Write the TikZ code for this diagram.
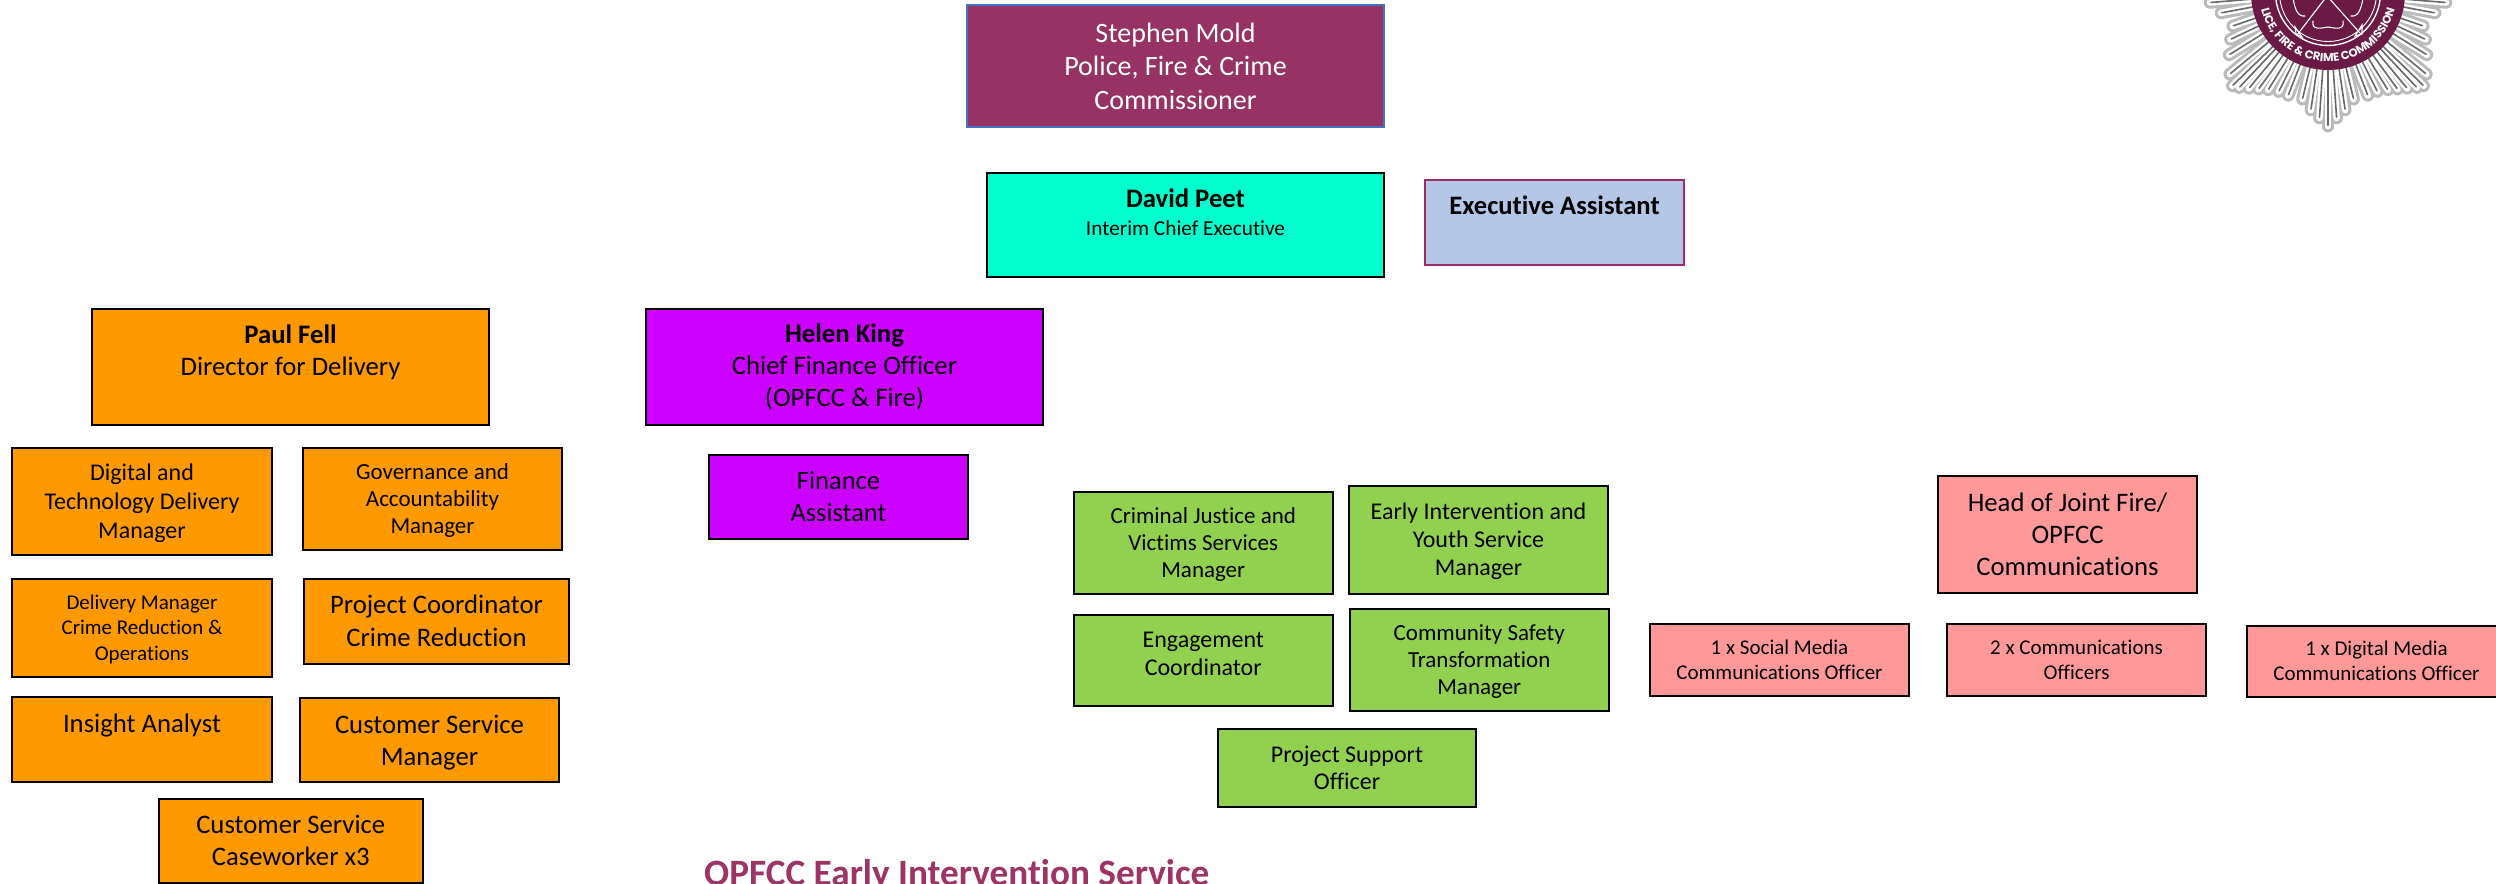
\documentclass[tikz,border=0pt]{standalone}
\usepackage{fontspec}
\setmainfont[Ligatures=NoCommon]{Carlito}
\newfontfamily\badgefont{Poppins}
\usetikzlibrary{decorations.text,calc}
\definecolor{cPFCC}{HTML}{963264}
\definecolor{cBlueEdge}{HTML}{4472C4}
\definecolor{cTeal}{HTML}{00FFCC}
\definecolor{cExec}{HTML}{B4C7E7}
\definecolor{cExecEdge}{HTML}{A02B68}
\definecolor{cOrange}{HTML}{FF9900}
\definecolor{cPurple}{HTML}{CC00FF}
\definecolor{cGreen}{HTML}{92D050}
\definecolor{cPink}{HTML}{FF9999}
\definecolor{cTitle}{HTML}{9E3366}
\definecolor{cMaroon}{HTML}{6B1A45}
\definecolor{cSilver}{HTML}{B8BABC}
\definecolor{cRay}{HTML}{66686A}
\tikzset{
  x=1pt,y=-1pt,
  orgbox/.style={draw=black,line width=2pt,inner sep=0pt,outer sep=0pt,rectangle},
  commbox/.style={orgbox,draw=cBlueEdge,fill=cPFCC,text=white},
  tealbox/.style={orgbox,fill=cTeal},
  execbox/.style={orgbox,draw=cExecEdge,fill=cExec},
  orangebox/.style={orgbox,fill=cOrange},
  purplebox/.style={orgbox,fill=cPurple},
  greenbox/.style={orgbox,fill=cGreen},
  pinkbox/.style={orgbox,fill=cPink},
  sectitle/.style={inner sep=0pt,anchor=base west,text=cTitle,font=\fontsize{37.2}{44}\selectfont\bfseries},
  emblem/.style={white,line width=1.1pt,line cap=round},
}
% name x1 y1 x2 y2 style size lead text
\newcommand{\orgnode}[9]{%
  \def\nodetxt{#9}%
  \pgfmathsetlengthmacro{\bw}{#4-#2}\pgfmathsetlengthmacro{\bh}{#5-#3}%
  \pgfmathsetmacro{\cxx}{(#2+#4)/2}\pgfmathsetmacro{\cyy}{(#3+#5)/2}%
  \orgnodeb{#1}{#6}{#7}{#8}%
}
\newcommand{\orgnodeb}[4]{%
  \node[#2] (#1) at (\cxx,\cyy) {\parbox[c][\bh][t]{\bw}{\centering\fontsize{#3}{#4}\selectfont\nodetxt\par}};%
}
\newcommand{\bsl}[1]{\rule{0pt}{#1pt}}
\begin{document}
\begin{tikzpicture}
\useasboundingbox (0,0) rectangle (2496,883);
\fill[white] (0,0) rectangle (2496,883);
% --- badge ---
\begin{scope}
\clip (0,0) rectangle (2496,883);
\coordinate (hub) at (2328,-7);
\def\raytips{2328/132,2319/124,2310/116,2301/105,2286/101,2276/97,2265/95,2255/94,2245/93,2235/92,2228/90,2225/78,2224/58,2225/42,2227/28,2215/14,2204/3,2194/-9,2184/-20}
\foreach \tx/\ty in \raytips {
  \pgfmathsetmacro{\mx}{2*2328-\tx}
  \draw[cSilver,line width=12.5pt,line cap=round] (hub) -- ($(\tx,\ty)!6pt!(hub)$);
  \draw[cSilver,line width=12.5pt,line cap=round] (hub) -- ($(\mx,\ty)!6pt!(hub)$);
}
\foreach \tx/\ty in \raytips {
  \pgfmathsetmacro{\mx}{2*2328-\tx}
  \draw[white,line width=6.5pt,line cap=round] (hub) -- ($(\tx,\ty)!6pt!(hub)$);
  \draw[white,line width=6.5pt,line cap=round] (hub) -- ($(\mx,\ty)!6pt!(hub)$);
}
\foreach \tx/\ty in \raytips {
  \pgfmathsetmacro{\mx}{2*2328-\tx}
  \draw[cRay,line width=1.6pt,line cap=round] ($(\tx,\ty)!7pt!(hub)$) -- ($(\tx,\ty)!0.65!(hub)$);
  \draw[cRay,line width=1.6pt,line cap=round] ($(\mx,\ty)!7pt!(hub)$) -- ($(\mx,\ty)!0.65!(hub)$);
}
\fill[cMaroon] (hub) circle (77);
\draw[white,line width=1.4pt] (hub) circle (52.5);
\draw[white,line width=0.9pt] (hub) circle (48.5);
% emblem
\draw[emblem] (2297,35) -- (2327,-4) -- (2360,33);
\draw[emblem] (2295,27) -- (2302,37) -- (2296,34) -- cycle;
\draw[emblem] (2362,25) -- (2355,36) -- (2362,34) -- cycle;
\draw[emblem] (2313,21) .. controls (2311,31) and (2322,28) .. (2328,27) .. controls (2334,28) and (2345,31) .. (2343,21);
\draw[emblem] (2293,-2) .. controls (2295,10) and (2298,17) .. (2305,16);
\draw[emblem] (2363,-2) .. controls (2361,10) and (2358,17) .. (2351,16);
\path[decorate,decoration={text along path,text align=center,
   text={|\badgefont\bfseries\fontsize{11.5}{12}\selectfont\color{white}|LICE, FIRE {\&} CRIME COMMISSION}}]
  (hub) ++(180:68.7) arc[start angle=180,end angle=0,radius=68.7];
\end{scope}
% --- boxes ---
\orgnode{mold}{967}{5}{1384}{127}{commbox}{28}{33.7}{\bsl{37.2}Stephen Mold\\Police, Fire \& Crime\\Commissioner}
\orgnode{peet}{987}{173}{1384}{277}{tealbox}{26.7}{28}{\bsl{34.5}\textbf{David Peet}\\{\fontsize{21.3}{28}\selectfont Interim Chief Executive}}
\orgnode{exec}{1425}{180}{1684}{265}{execbox}{26.6}{30}{\bsl{34.5}\textbf{Executive Assistant}}
\orgnode{fell}{92}{309}{489}{425}{orangebox}{26.7}{32}{\bsl{34.2}\textbf{Paul Fell}\\Director for Delivery}
\orgnode{digital}{12}{448}{272}{555}{orangebox}{24}{29}{\bsl{32}Digital and\\Technology Delivery\\Manager}
\orgnode{gov}{303}{448}{562}{550}{orangebox}{23}{27}{\bsl{31.3}Governance and\\Accountability\\Manager}
\orgnode{crime}{12}{579}{272}{677}{orangebox}{21}{25.5}{\bsl{30}Delivery Manager\\Crime Reduction \&\\Operations}
\orgnode{coord}{304}{579}{569}{664}{orangebox}{26.7}{32.5}{\bsl{34.5}Project Coordinator\\Crime Reduction}
\orgnode{insight}{12}{697}{272}{782}{orangebox}{26.7}{32}{\bsl{35}Insight Analyst}
\orgnode{csm}{300}{698}{559}{782}{orangebox}{26.7}{32.3}{\bsl{35}Customer Service\\Manager}
\orgnode{case}{159}{799}{422.5}{883}{orangebox}{26.7}{32}{\bsl{34}Customer Service\\Caseworker x3}
\orgnode{king}{646}{309}{1043}{425}{purplebox}{26.7}{32}{\bsl{33.5}\textbf{Helen King}\\Chief Finance Officer\\(OPFCC \& Fire)}
\orgnode{finance}{709}{455}{968}{539}{purplebox}{26.5}{32}{\bsl{34}Finance\\Assistant}
\orgnode{cjv}{1074}{492}{1332.5}{594}{greenbox}{23}{27}{\bsl{31}Criminal Justice and\\Victims Services\\Manager}
\orgnode{early}{1349}{486}{1608}{594}{greenbox}{24}{28.3}{\bsl{33}Early Intervention and\\Youth Service\\Manager}
\orgnode{engage}{1074}{615}{1332.5}{706}{greenbox}{24}{28.5}{\bsl{32}Engagement\\Coordinator}
\orgnode{safety}{1350}{609}{1608.5}{711}{greenbox}{23}{27}{\bsl{31.5}Community Safety\\Transformation\\Manager}
\orgnode{support}{1218}{729}{1476}{807}{greenbox}{24}{27.3}{\bsl{33}Project Support\\Officer}
\orgnode{head}{1938}{476}{2197}{593}{pinkbox}{26.7}{32}{\bsl{35}Head of Joint Fire/\\OPFCC\\Communications}
\orgnode{social}{1650}{624}{1909}{696}{pinkbox}{21}{25.3}{\bsl{30}1 x Social Media\\Communications Officer}
\orgnode{comms}{1947}{624}{2206}{696}{pinkbox}{21}{25.3}{\bsl{30}2 x Communications\\Officers}
\orgnode{dmedia}{2247}{626}{2506}{697}{pinkbox}{21}{25.3}{\bsl{29}1 x Digital Media\\Communications Officer}
\node[sectitle] (title) at (704,885) {OPFCC Early Intervention Service};
\end{tikzpicture}
\end{document}
